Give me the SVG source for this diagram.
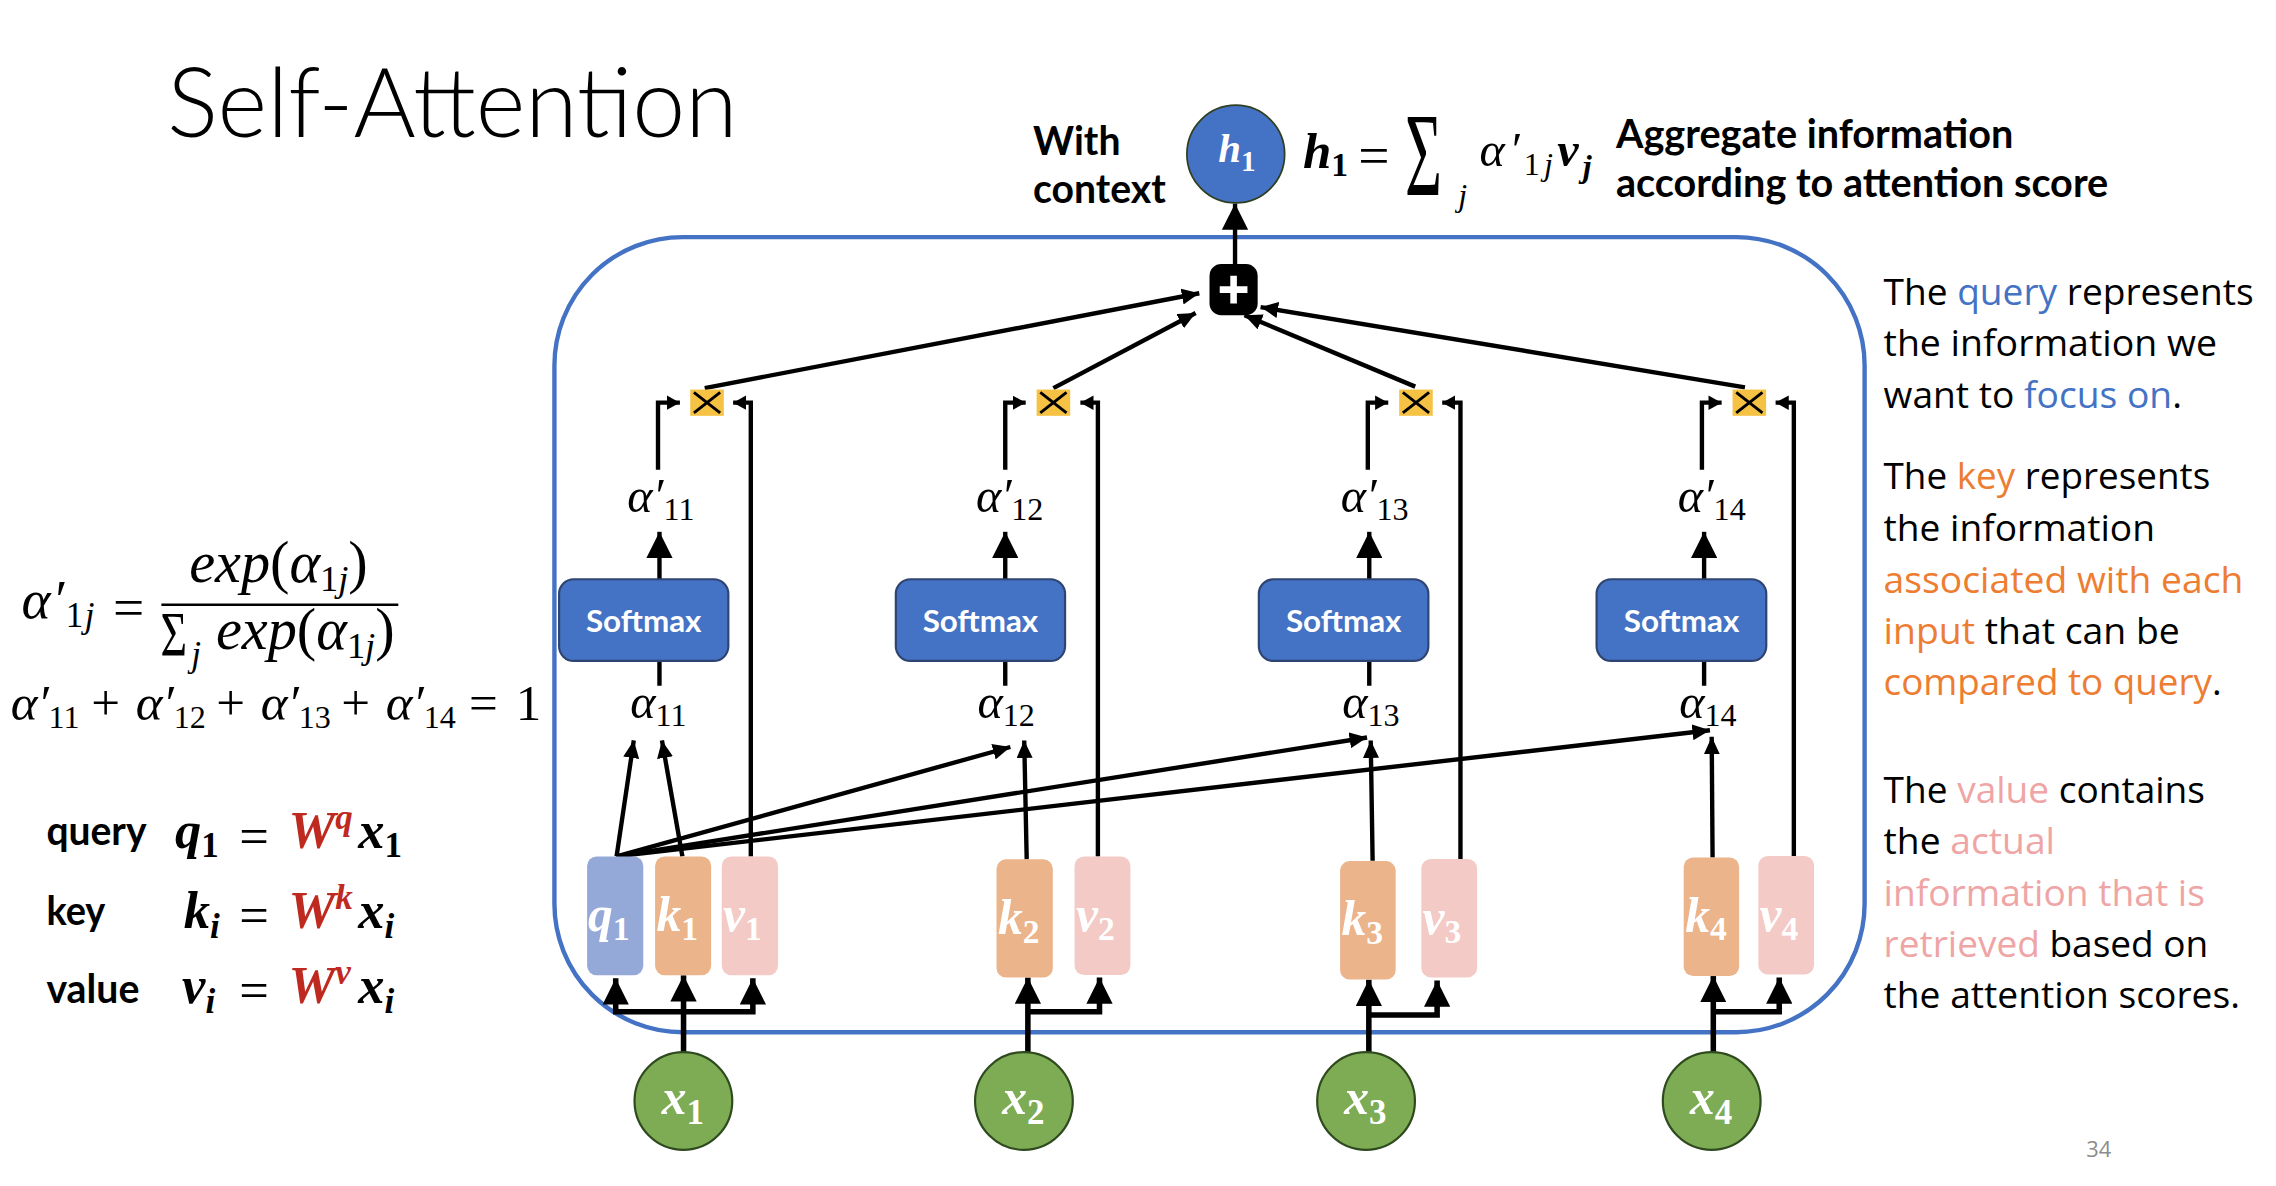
<svg xmlns="http://www.w3.org/2000/svg" width="2276" height="1186" viewBox="0 0 2276 1186">
<style>
.c{fill:none;stroke:#000;stroke-width:3}
.cb{fill:none;stroke:#000;stroke-width:3.8}
.bd{font-family:Lato,"Liberation Sans",sans-serif;font-weight:700}
.rt{font-family:"Open Sans","Liberation Sans",sans-serif;font-size:25.5px;fill:#000}
.m{font-family:"Liberation Serif","DejaVu Serif",serif;font-style:italic}
.mb{font-family:"Liberation Serif","DejaVu Serif",serif;font-style:italic;font-weight:700}
.u{font-style:normal}
.sm{fill:#4472C4;stroke:#2F4470;stroke-width:1.5}
.smt{font-family:Lato,"Liberation Sans",sans-serif;font-weight:700;font-size:21.5px;fill:#fff;text-anchor:middle}
.mul{fill:#F6C244}
.mx{stroke:#000;stroke-width:2}
.q{fill:#95A9D8}
.k{fill:#EBB48A}
.v{fill:#F3CAC5}
.bt{font-family:"Liberation Serif","DejaVu Serif",serif;font-style:italic;font-weight:700;font-size:34px;fill:#fff}
.xn{fill:#7EAC55;stroke:#2E4A1E;stroke-width:1.5}
.blue{fill:#4472C4}
.org{fill:#ED7D31}
.pnk{fill:#EFA5A5}
.red{fill:#BE2A1F}
</style>
<defs>
<marker id="big" viewBox="0 0 10 10" refX="10" refY="5" markerUnits="userSpaceOnUse" markerWidth="18" markerHeight="18" orient="auto" preserveAspectRatio="none"><path d="M0,0L10,5L0,10z"/></marker>
<marker id="med" viewBox="0 0 10 10" refX="10" refY="5" markerUnits="userSpaceOnUse" markerWidth="12" markerHeight="11" orient="auto" preserveAspectRatio="none"><path d="M0,0L10,5L0,10z"/></marker>
<marker id="sma" viewBox="0 0 10 10" refX="10" refY="5" markerUnits="userSpaceOnUse" markerWidth="9" markerHeight="10" orient="auto" preserveAspectRatio="none"><path d="M0,0L10,5L0,10z"/></marker>
</defs>
<rect width="2276" height="1186" fill="#fff"/>
<g transform="scale(1.459)">
<g id="title">
<text x="114.6" y="93.7" font-family="Lato,'Liberation Sans',sans-serif" font-weight="300" font-size="66" textLength="391" lengthAdjust="spacingAndGlyphs">Self-Attention</text>
</g>
<g id="frame">
<rect x="380" y="162.5" width="898" height="545" rx="88" fill="none" stroke="#4472C4" stroke-width="3"/>
</g>
<g id="connectors">
<path class="c" d="M846.5,181V139.5" marker-end="url(#big)"/>
<path class="c" d="M483,266L822,201" marker-end="url(#med)"/>
<path class="c" d="M722,266L819.5,214.5" marker-end="url(#med)"/>
<path class="c" d="M970,265L853,216" marker-end="url(#med)"/>
<path class="c" d="M1196,265.5L864,210.5" marker-end="url(#med)"/>
<path class="c" d="M451,322V276H466" marker-end="url(#sma)"/>
<path class="c" d="M689,322V276H703" marker-end="url(#sma)"/>
<path class="c" d="M937.5,322V276H951.5" marker-end="url(#sma)"/>
<path class="c" d="M1166.5,322V276H1180" marker-end="url(#sma)"/>
<path class="c" d="M514.6,587V276H502.5" marker-end="url(#sma)"/>
<path class="c" d="M752.5,587V276H740.5" marker-end="url(#sma)"/>
<path class="c" d="M1001,588.8V276H988.5" marker-end="url(#sma)"/>
<path class="c" d="M1229.5,586.7V276H1217" marker-end="url(#sma)"/>
<path class="c" d="M452,397V364.5" marker-end="url(#big)"/>
<path class="c" d="M689,397V364.5" marker-end="url(#big)"/>
<path class="c" d="M938.5,397V364.5" marker-end="url(#big)"/>
<path class="c" d="M1168,397V364.5" marker-end="url(#big)"/>
<path class="c" d="M452,453V470M689,453V470M938.5,453V470M1168,453V470"/>
<path class="c" d="M422.6,587L434.4,507.5" marker-end="url(#med)"/>
<path class="c" d="M422.6,587L692.5,512" marker-end="url(#med)"/>
<path class="c" d="M422.6,587L937,505.5" marker-end="url(#med)"/>
<path class="c" d="M422.6,587L1172,500.5" marker-end="url(#med)"/>
<path class="c" d="M467.7,587L453.7,507.5" marker-end="url(#med)"/>
<path class="c" d="M703.7,589L702,507.5" marker-end="url(#med)"/>
<path class="c" d="M940.8,590L939.5,507.5" marker-end="url(#med)"/>
<path class="c" d="M1173.8,587.7L1173.2,505" marker-end="url(#med)"/>
<path class="cb" d="M468.5,721V668.5" marker-end="url(#big)"/>
<path class="cb" d="M468.5,693.4H422V670.5" marker-end="url(#big)"/>
<path class="cb" d="M468.5,693.4H516V670.5" marker-end="url(#big)"/>
<path class="cb" d="M704.5,721V670" marker-end="url(#big)"/>
<path class="cb" d="M704.5,693.4H753.6V670" marker-end="url(#big)"/>
<path class="cb" d="M938.2,721V671.5" marker-end="url(#big)"/>
<path class="cb" d="M938.2,695.7H985V672" marker-end="url(#big)"/>
<path class="cb" d="M1174.3,721V669" marker-end="url(#big)"/>
<path class="cb" d="M1174.3,693.4H1219.5V670" marker-end="url(#big)"/>
</g>
<g id="h1">
<circle cx="847" cy="105.6" r="33.5" fill="#4472C4" stroke="#2F3F1F" stroke-width="1.2"/>
<text class="mb" fill="#fff" x="835" y="111" font-size="28">h<tspan dy="6" font-size="20" class="u">1</tspan></text>
</g>
<g id="plus">
<rect x="829" y="181" width="33" height="35" rx="8" fill="#000"/>
<path d="M836,198.5H855M845.5,189V208" stroke="#fff" stroke-width="4.5"/>
</g>
<g id="mult1"><rect class="mul" x="473.1" y="267" width="23" height="18"/><path class="mx" d="M475.6,269L493.6,283M493.6,269L475.6,283"/></g>
<g id="mult2"><rect class="mul" x="710.5" y="267" width="23" height="18"/><path class="mx" d="M713,269L731,283M731,269L713,283"/></g>
<g id="mult3"><rect class="mul" x="959" y="267" width="23" height="18"/><path class="mx" d="M961.5,269L979.5,283M979.5,269L961.5,283"/></g>
<g id="mult4"><rect class="mul" x="1187.5" y="267" width="23" height="18"/><path class="mx" d="M1190,269L1208,283M1208,269L1190,283"/></g>
<g id="softmax1"><rect class="sm" x="383.2" y="397" width="116" height="56" rx="10"/><text class="smt" x="441.2" y="433.5">Softmax</text></g>
<g id="softmax2"><rect class="sm" x="614" y="397" width="116" height="56" rx="10"/><text class="smt" x="672" y="433.5">Softmax</text></g>
<g id="softmax3"><rect class="sm" x="862.8" y="397" width="116.2" height="56" rx="10"/><text class="smt" x="921" y="433.5">Softmax</text></g>
<g id="softmax4"><rect class="sm" x="1094.3" y="397" width="116.3" height="56" rx="10"/><text class="smt" x="1152.5" y="433.5">Softmax</text></g>
<g id="alphaprime">
<text class="m" font-size="33" x="430" y="350.7" textLength="46" lengthAdjust="spacing">α′<tspan dy="5.5" font-size="22" class="u">11</tspan></text>
<text class="m" font-size="33" x="669" y="350.7" textLength="46" lengthAdjust="spacing">α′<tspan dy="5.5" font-size="22" class="u">12</tspan></text>
<text class="m" font-size="33" x="919" y="350.7" textLength="46.5" lengthAdjust="spacing">α′<tspan dy="5.5" font-size="22" class="u">13</tspan></text>
<text class="m" font-size="33" x="1150" y="350.7" textLength="46.5" lengthAdjust="spacing">α′<tspan dy="5.5" font-size="22" class="u">14</tspan></text>
</g>
<g id="alpha">
<text class="m" font-size="33" x="432" y="492.3">α<tspan dy="5" font-size="22" class="u">11</tspan></text>
<text class="m" font-size="33" x="670" y="492.3">α<tspan dy="5" font-size="22" class="u">12</tspan></text>
<text class="m" font-size="33" x="920" y="492.3">α<tspan dy="5" font-size="22" class="u">13</tspan></text>
<text class="m" font-size="33" x="1151" y="492.3">α<tspan dy="5" font-size="22" class="u">14</tspan></text>
</g>
<g id="q1"><rect class="q" x="402.4" y="587" width="38.5" height="81.5" rx="6.5"/><text class="bt" x="403" y="638">q<tspan dy="6" font-size="23" class="u">1</tspan></text></g>
<g id="k1"><rect class="k" x="449" y="587" width="38.4" height="81.5" rx="6.5"/><text class="bt" x="450" y="638">k<tspan dy="6" font-size="23" class="u">1</tspan></text></g>
<g id="v1"><rect class="v" x="494.7" y="587" width="38.6" height="81.5" rx="6.5"/><text class="bt" x="495.5" y="638">v<tspan dy="6" font-size="23" class="u">1</tspan></text></g>
<g id="k2"><rect class="k" x="683" y="589" width="38.6" height="81" rx="6.5"/><text class="bt" x="684" y="640">k<tspan dy="6" font-size="23" class="u">2</tspan></text></g>
<g id="v2"><rect class="v" x="736.5" y="587" width="38.3" height="81.3" rx="6.5"/><text class="bt" x="737.5" y="638">v<tspan dy="6" font-size="23" class="u">2</tspan></text></g>
<g id="k3"><rect class="k" x="918.5" y="590.2" width="38.1" height="81.1" rx="6.5"/><text class="bt" x="919.5" y="641">k<tspan dy="6" font-size="23" class="u">3</tspan></text></g>
<g id="v3"><rect class="v" x="974.2" y="588.8" width="38.2" height="81.1" rx="6.5"/><text class="bt" x="975" y="640">v<tspan dy="6" font-size="23" class="u">3</tspan></text></g>
<g id="k4"><rect class="k" x="1154" y="587.7" width="38" height="81.3" rx="6.5"/><text class="bt" x="1155" y="638.5">k<tspan dy="6" font-size="23" class="u">4</tspan></text></g>
<g id="v4"><rect class="v" x="1205.2" y="586.7" width="38.1" height="81.3" rx="6.5"/><text class="bt" x="1206" y="638">v<tspan dy="6" font-size="23" class="u">4</tspan></text></g>
<g id="x1"><circle class="xn" cx="468.4" cy="754.6" r="33.5"/><text class="bt" x="453.5" y="763.5" font-size="36">x<tspan dy="7" font-size="24" class="u">1</tspan></text></g>
<g id="x2"><circle class="xn" cx="701.8" cy="754.6" r="33.5"/><text class="bt" x="686.9" y="763.5" font-size="36">x<tspan dy="7" font-size="24" class="u">2</tspan></text></g>
<g id="x3"><circle class="xn" cx="936.3" cy="754.6" r="33.5"/><text class="bt" x="921.4" y="763.5" font-size="36">x<tspan dy="7" font-size="24" class="u">3</tspan></text></g>
<g id="x4"><circle class="xn" cx="1173.2" cy="754.6" r="33.5"/><text class="bt" x="1158.3" y="763.5" font-size="36">x<tspan dy="7" font-size="24" class="u">4</tspan></text></g>
<g id="top-labels">
<text class="bd" font-size="27" x="708" y="106.3" textLength="60" lengthAdjust="spacingAndGlyphs">With</text>
<text class="bd" font-size="27" x="708" y="139.4" textLength="91" lengthAdjust="spacingAndGlyphs">context</text>
<text class="bd" font-size="27" x="1107.6" y="101.7" textLength="272.4" lengthAdjust="spacingAndGlyphs">Aggregate information</text>
<text class="bd" font-size="27" x="1107.6" y="134.8" textLength="337.4" lengthAdjust="spacingAndGlyphs">according to attention score</text>
</g>
<g id="h1-formula">
<text class="mb" font-size="35" x="893" y="115.4">h<tspan dy="5" font-size="23" class="u">1</tspan></text>
<text class="m u" font-size="38" x="931" y="119">=</text>
<text class="m u" font-size="58" transform="translate(963,133.5) scale(0.75,1.4)">Σ</text>
<text class="m" font-size="22" x="999.5" y="141.5">j</text>
<text class="m" font-size="33" x="1014" y="114" textLength="77" lengthAdjust="spacing">α′<tspan dy="6" font-size="22" class="u">1</tspan><tspan font-size="22">j</tspan><tspan dy="-6" font-weight="700">v</tspan><tspan dy="7" font-size="22" font-weight="700">j</tspan></text>
</g>
<g id="softmax-formula">
<text class="m" font-size="38" x="14.7" y="423.8" textLength="50" lengthAdjust="spacing">α′<tspan dy="6" font-size="24" class="u">1</tspan><tspan font-size="24">j</tspan></text>
<text class="m u" font-size="38" x="77.5" y="429">=</text>
<line x1="110.6" y1="414.5" x2="273" y2="414.5" stroke="#000" stroke-width="1.8"/>
<text class="m" font-size="40" x="129.7" y="399" textLength="122.3" lengthAdjust="spacing">exp<tspan class="u">(</tspan>α<tspan dy="6" font-size="25" class="u">1</tspan><tspan font-size="25">j</tspan><tspan dy="-6" class="u">)</tspan></text>
<text class="m u" font-size="34" transform="translate(110,449.5) scale(0.92,1.27)">Σ</text>
<text class="m" font-size="24" x="131" y="456.5">j</text>
<text class="m" font-size="40" x="148" y="445" textLength="122.5" lengthAdjust="spacing">exp<tspan class="u">(</tspan>α<tspan dy="6" font-size="25" class="u">1</tspan><tspan font-size="25">j</tspan><tspan dy="-6" class="u">)</tspan></text>
</g>
<g id="sum-formula">
<text class="m" font-size="35" y="493.5"><tspan x="7.3">α′</tspan><tspan dy="5.7" font-size="22" class="u">11</tspan><tspan x="62.5" dy="-5.7" class="u">+</tspan><tspan x="93">α′</tspan><tspan dy="5.7" font-size="22" class="u">12</tspan><tspan x="148.2" dy="-5.7" class="u">+</tspan><tspan x="178.7">α′</tspan><tspan dy="5.7" font-size="22" class="u">13</tspan><tspan x="233.9" dy="-5.7" class="u">+</tspan><tspan x="264.4">α′</tspan><tspan dy="5.7" font-size="22" class="u">14</tspan><tspan x="321.5" dy="-5.7" class="u">=</tspan><tspan x="353.5" class="u">1</tspan></text>
</g>
<g id="qkv-formulas">
<text class="bd" font-size="28" x="31.8" y="579" textLength="68.6" lengthAdjust="spacingAndGlyphs">query</text>
<text class="bd" font-size="28" x="31.8" y="634" textLength="40.4" lengthAdjust="spacingAndGlyphs">key</text>
<text class="bd" font-size="28" x="31.8" y="687.7" textLength="63.7" lengthAdjust="spacingAndGlyphs">value</text>
<text class="mb" font-size="36"><tspan x="120" y="581.5">q</tspan><tspan y="587.2" font-size="24" class="u">1</tspan><tspan x="164" y="585" font-weight="400" class="u">=</tspan><tspan x="197.8" y="581.5" class="red">W</tspan><tspan y="568" font-size="24" class="red">q</tspan><tspan x="245.5" y="581.5">x</tspan><tspan y="587.2" font-size="24" class="u">1</tspan></text>
<text class="mb" font-size="36"><tspan x="126" y="636.3">k</tspan><tspan y="643" font-size="24">i</tspan><tspan x="164" y="639.8" font-weight="400" class="u">=</tspan><tspan x="197.8" y="636.3" class="red">W</tspan><tspan y="623" font-size="24" class="red">k</tspan><tspan x="245.5" y="636.3">x</tspan><tspan y="643" font-size="24">i</tspan></text>
<text class="mb" font-size="36"><tspan x="124.8" y="687.7">v</tspan><tspan y="694.6" font-size="24">i</tspan><tspan x="164" y="691.2" font-weight="400" class="u">=</tspan><tspan x="197.8" y="687.7" class="red">W</tspan><tspan y="674.5" font-size="24" class="red">v</tspan><tspan x="245.5" y="687.7">x</tspan><tspan y="694.6" font-size="24">i</tspan></text>
</g>
<g id="right-text">
<text class="rt" x="1291" y="208.8" textLength="253.6" lengthAdjust="spacingAndGlyphs">The <tspan class="blue">query</tspan> represents</text>
<text class="rt" x="1291" y="243.9" textLength="228.5" lengthAdjust="spacingAndGlyphs">the information we</text>
<text class="rt" x="1291" y="279.6" textLength="204.5" lengthAdjust="spacingAndGlyphs">want to <tspan class="blue">focus on</tspan>.</text>
<text class="rt" x="1291" y="334.9" textLength="223.9" lengthAdjust="spacingAndGlyphs">The <tspan class="org">key</tspan> represents</text>
<text class="rt" x="1291" y="370.6" textLength="186" lengthAdjust="spacingAndGlyphs">the information</text>
<text class="rt org" x="1291" y="406.4" textLength="246.6" lengthAdjust="spacingAndGlyphs">associated with each</text>
<text class="rt" x="1291" y="441.4" textLength="203" lengthAdjust="spacingAndGlyphs"><tspan class="org">input</tspan> that can be</text>
<text class="rt" x="1291" y="476.2" textLength="231.7" lengthAdjust="spacingAndGlyphs"><tspan class="org">compared to query</tspan>.</text>
<text class="rt" x="1291" y="550.4" textLength="220.3" lengthAdjust="spacingAndGlyphs">The <tspan class="pnk">value</tspan> contains</text>
<text class="rt" x="1291" y="585.3" textLength="117.5" lengthAdjust="spacingAndGlyphs">the <tspan class="pnk">actual</tspan></text>
<text class="rt pnk" x="1291" y="621" textLength="220.3" lengthAdjust="spacingAndGlyphs">information that is</text>
<text class="rt" x="1291" y="655.8" textLength="222.6" lengthAdjust="spacingAndGlyphs"><tspan class="pnk">retrieved</tspan> based on</text>
<text class="rt" x="1291" y="690.9" textLength="244.3" lengthAdjust="spacingAndGlyphs">the attention scores.</text>
</g>
<g id="page"><text x="1430" y="793" font-family="'Open Sans','Liberation Sans',sans-serif" font-size="15" fill="#8C8C8C">34</text></g>
</g>
</svg>
